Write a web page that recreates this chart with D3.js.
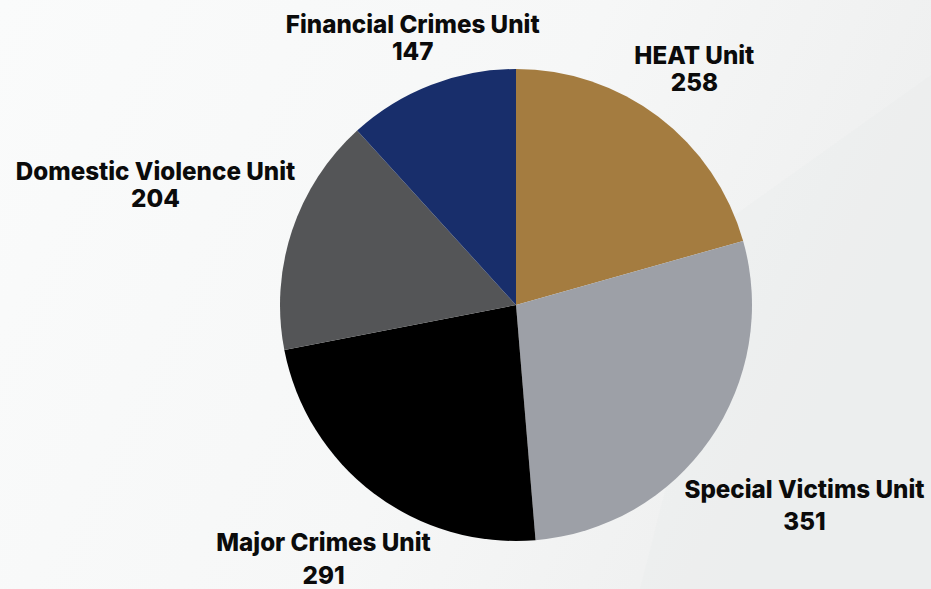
<!DOCTYPE html>
<html>
<head>
<meta charset="utf-8">
<script src="https://cdn.jsdelivr.net/npm/d3@7"></script>
<style>
  html, body { margin: 0; padding: 0; overflow: hidden; }
  svg { display: block; }
  .label { font-family: Inter, "Open Sans", sans-serif; font-weight: 800; fill: #0b0b0b; }
</style>
</head>
<body>
<div id="chart"></div>
<script>
// Datos del grafico
const unidades = ["HEAT Unit", "Special Victims Unit", "Major Crimes Unit", "Domestic Violence Unit", "Financial Crimes Unit"];
const casos = [258, 351, 291, 204, 147];
const colores = ["#a47c40", "#9da0a7", "#000000", "#545557", "#182e6b"];

// Dimensiones
const width = 931, height = 589;
const centro = {x: 516, y: 305};
const radio = 236;
const separacion = 3;      // espacio entre la etiqueta y el borde del pie
const fontSize = 24.2;
// salto entre el nombre y el numero (algunas etiquetas tienen mas espacio)
const saltoLinea = {"Special Victims Unit": 32, "Major Crimes Unit": 33};

const svg = d3.select("#chart").append("svg")
    .attr("width", width)
    .attr("height", height);

// Fondo con gradiente suave
const defs = svg.append("defs");
const grad = defs.append("linearGradient")
    .attr("id", "fondo")
    .attr("x1", "0").attr("y1", "0").attr("x2", "1").attr("y2", "0.3");
grad.append("stop").attr("offset", "0").attr("stop-color", "#fafbfb");
grad.append("stop").attr("offset", "0.6").attr("stop-color", "#f6f7f7");
grad.append("stop").attr("offset", "1").attr("stop-color", "#eeefef");

svg.append("rect")
    .attr("width", width)
    .attr("height", height)
    .attr("fill", "url(#fondo)");

// Franja diagonal tenue en la parte derecha
svg.append("path")
    .attr("d", "M931,75 L735,215 L640,589 L931,589 Z")
    .attr("fill", "#e9eaea")
    .attr("opacity", 0.3);

const g = svg.append("g")
    .attr("transform", `translate(${centro.x},${centro.y})`);

const pie = d3.pie().sort(null).value(d => d.valor);
const datos = unidades.map((u, i) => ({nombre: u, valor: casos[i], color: colores[i]}));
const arcos = pie(datos);

const arc = d3.arc().innerRadius(0).outerRadius(radio);

g.selectAll("path.slice")
    .data(arcos)
    .enter()
    .append("path")
    .attr("class", "slice")
    .attr("d", arc)
    .attr("fill", d => d.data.color);

// Etiquetas: se empujan hacia afuera sobre el angulo medio hasta no tocar el circulo
const etiquetas = g.selectAll("g.label")
    .data(arcos)
    .enter()
    .append("g")
    .attr("class", "label");

etiquetas.each(function(d) {
    const grupo = d3.select(this);
    const texto = grupo.append("text")
        .attr("text-anchor", "middle")
        .style("font-size", fontSize + "px");
    texto.append("tspan").attr("x", 0).attr("y", 0).text(d.data.nombre);
    texto.append("tspan").attr("x", 0).attr("dy", saltoLinea[d.data.nombre] || 27).text(d.data.valor);

    const bb = texto.node().getBBox();
    const cx = bb.x + bb.width / 2, cy = bb.y + bb.height / 2;
    const ang = (d.startAngle + d.endAngle) / 2;
    const ux = Math.sin(ang), uy = -Math.cos(ang);

    // distancia minima del centro del pie a la caja de la etiqueta
    function distancia(t) {
        const x0 = t * ux - bb.width / 2, x1 = t * ux + bb.width / 2;
        const y0 = t * uy - bb.height / 2, y1 = t * uy + bb.height / 2;
        const nx = Math.max(x0, Math.min(0, x1));
        const ny = Math.max(y0, Math.min(0, y1));
        return Math.hypot(nx, ny);
    }
    let lo = 0, hi = 800;
    for (let k = 0; k < 40; k++) {
        const mid = (lo + hi) / 2;
        if (distancia(mid) < radio + separacion) lo = mid; else hi = mid;
    }
    grupo.attr("transform", `translate(${hi * ux - cx},${hi * uy - cy})`);
});
</script>
</body>
</html>
